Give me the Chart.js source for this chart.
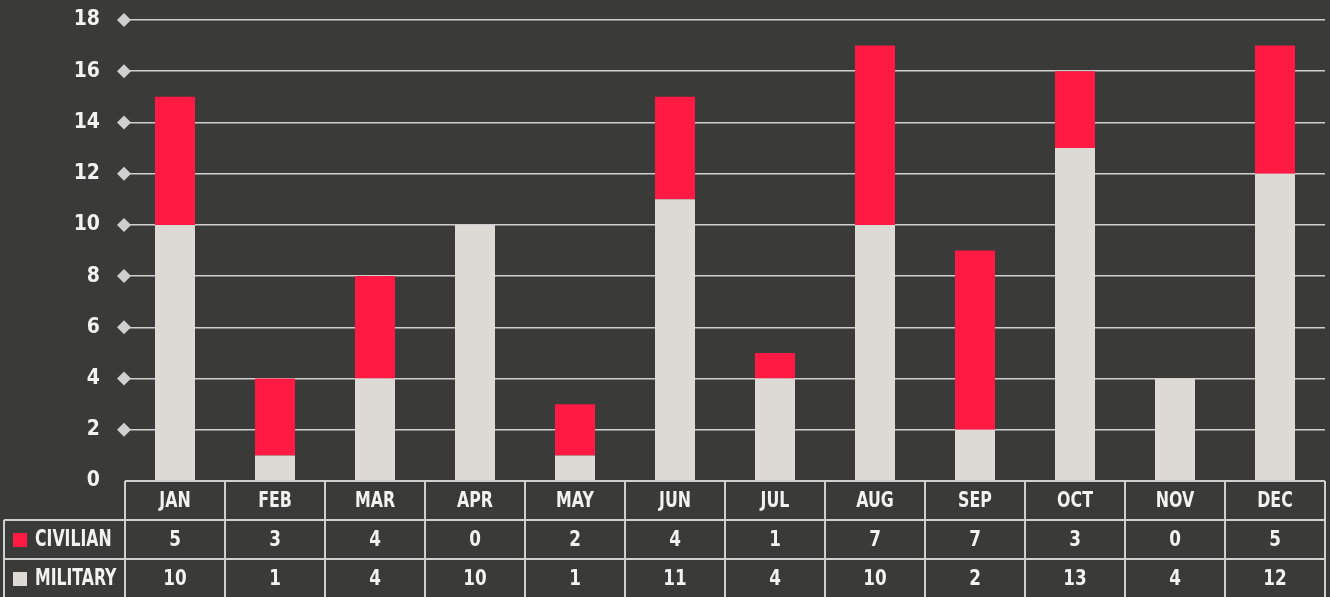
<!DOCTYPE html>
<html>
<head>
<meta charset="utf-8">
<script src="https://cdn.jsdelivr.net/npm/chart.js@4"></script>
<style>
  html, body { margin: 0; padding: 0; background: #3a3a39; }
  #wrap { width: 1330px; height: 597px; }
</style>
</head>
<body>
<div id="wrap"><canvas id="chart" width="1330" height="597"></canvas></div>
<script>
const months = ["JAN", "FEB", "MAR", "APR", "MAY", "JUN", "JUL", "AUG", "SEP", "OCT", "NOV", "DEC"];
const civilian = [5, 3, 4, 0, 2, 4, 1, 7, 7, 3, 0, 5];
const military = [10, 1, 4, 10, 1, 11, 4, 10, 2, 13, 4, 12];
const seriesNames = ["CIVILIAN", "MILITARY"];

const FONT = "'Liberation Sans Narrow', 'DejaVu Sans Condensed', sans-serif";
const RED = "#fe1a43";
const GREY = "#ddd9d4";
const LINE = "#cfcfcf";
const TEXT = "#f2f2f2";

// narrow text: the reference font is a condensed one we don't have
function narrowText(c, txt, x, y, sx) {
	c.save();
	c.translate(x, y);
	c.scale(sx, 1);
	c.fillText(txt, 0, 0);
	c.restore();
}

// diamonds on the y ticks + the data table under the bars
const tablePlugin = {
	id: "tablePlugin",
	afterDraw(chart) {
		const c = chart.ctx;
		const y = chart.scales.y;
		const x = chart.scales.x;
		const area = chart.chartArea;

		c.save();
		c.fillStyle = LINE;
		y.ticks.forEach((t) => {
			if (t.value === 0) return;
			const py = y.getPixelForValue(t.value);
			c.beginPath();
			c.moveTo(124, py - 7);
			c.lineTo(131, py);
			c.lineTo(124, py + 7);
			c.lineTo(117, py);
			c.closePath();
			c.fill();
		});

		const top = area.bottom;
		const rowH = [39, 39, 39];
		const r1 = top + rowH[0];
		const r2 = r1 + rowH[1];
		const r3 = r2 + rowH[2];
		const colW = (area.right - area.left) / months.length;

		c.strokeStyle = LINE;
		c.lineWidth = 2;
		c.beginPath();
		c.moveTo(area.left, top); c.lineTo(area.right, top);
		c.moveTo(4, r1); c.lineTo(area.right, r1);
		c.moveTo(4, r2); c.lineTo(area.right, r2);
		c.moveTo(4, r3); c.lineTo(area.right, r3);
		c.moveTo(4, r1); c.lineTo(4, r3);
		for (let i = 0; i <= months.length; i++) {
			const vx = area.left + i * colW;
			c.moveTo(vx, top); c.lineTo(vx, r3);
		}
		c.stroke();

		c.fillStyle = TEXT;
		c.font = "bold 22px " + FONT;
		c.textAlign = "center";
		c.textBaseline = "middle";
		months.forEach((m, i) => {
			const cx = x.getPixelForValue(i);
			narrowText(c, m, cx, top + rowH[0] / 2 + 1, 0.8);
			narrowText(c, String(civilian[i]), cx, r1 + rowH[1] / 2 + 1, 0.85);
			narrowText(c, String(military[i]), cx, r2 + rowH[2] / 2 + 1, 0.85);
		});

		c.textAlign = "left";
		c.font = "bold 23px " + FONT;
		c.fillStyle = RED;
		c.fillRect(13, r1 + 13, 14, 14);
		c.fillStyle = GREY;
		c.fillRect(13, r2 + 13, 14, 14);
		c.fillStyle = TEXT;
		narrowText(c, seriesNames[0], 35, r1 + rowH[1] / 2 + 1, 0.76);
		narrowText(c, seriesNames[1], 35, r2 + rowH[2] / 2 + 1, 0.76);
		c.restore();
	},
};

const ctx = document.getElementById("chart");
new Chart(ctx, {
	type: "bar",
	data: {
		labels: months,
		datasets: [
			{
				label: seriesNames[1],
				data: military,
				backgroundColor: GREY,
				borderWidth: 0,
				barPercentage: 0.4,
				categoryPercentage: 1.0,
			},
			{
				label: seriesNames[0],
				data: civilian,
				backgroundColor: RED,
				borderWidth: 0,
				barPercentage: 0.4,
				categoryPercentage: 1.0,
			},
		],
	},
	options: {
		responsive: false,
		animation: false,
		layout: {
			padding: { top: 20, right: 5, bottom: 116, left: 0 },
		},
		plugins: {
			legend: { display: false },
			tooltip: { enabled: false },
		},
		scales: {
			x: {
				stacked: true,
				display: false,
			},
			y: {
				stacked: true,
				min: 0,
				max: 18,
				border: { display: false },
				grid: {
					color: LINE,
					lineWidth: 1.5,
					drawTicks: false,
				},
				ticks: {
					stepSize: 2,
					padding: 25,
					color: TEXT,
					font: { family: FONT, size: 21, weight: "bold" },
				},
				afterFit(scale) {
					scale.width = 125;
					// tick padding is also added above/below; drop it
					scale.paddingTop = 0;
					scale.paddingBottom = 0;
				},
			},
		},
	},
	plugins: [tablePlugin],
});
</script>
</body>
</html>
